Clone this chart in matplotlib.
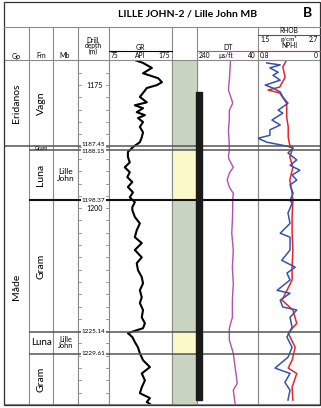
import numpy as np
import matplotlib.pyplot as plt
from matplotlib.patches import Rectangle

plt.rcParams['font.family'] = ['Lato', 'DejaVu Sans']

W, H = 321, 408

# depth window (m) and formation tops
depth_top, depth_base = 1169.9, 1239.8
tops = [1187.45, 1188.15, 1198.37, 1225.14, 1229.61]
top_labels = ['1187.45', '1188.15', '1198.37', '1225.14', '1229.61']

groups = ['Eridanos', 'Måde']
group_bounds = [(1169.9, 1187.45), (1187.45, 1239.8)]
formations = ['Vagn', 'Gram', 'Luna', 'Gram', 'Luna', 'Gram']
form_bounds = [(1169.9, 1187.45), (1187.45, 1188.15), (1188.15, 1198.37),
               (1198.37, 1225.14), (1225.14, 1229.61), (1229.61, 1239.8)]
members = ['Lille\nJohn', 'Lille\nJohn']
member_bounds = [(1188.15, 1198.37), (1225.14, 1229.61)]

# core: full interval with Luna (Lille John) intervals highlighted
core_interval = (1169.9, 1239.8)
luna_intervals = [(1188.15, 1198.37), (1225.14, 1229.61)]
core_bar = (1176.4, 1239.0)

gr_depth = [1169.9, 1170.5, 1171.5, 1172.6, 1173.6, 1174.4, 1175.0, 1175.6, 1176.6, 1177.4,
            1178.5, 1179.1, 1179.7, 1180.5, 1181.1, 1181.7, 1182.5, 1183.5, 1184.6, 1185.6,
            1186.6, 1187.6, 1188.6, 1189.6, 1190.7, 1191.7, 1192.7, 1193.7, 1194.7, 1195.7,
            1196.8, 1197.8, 1198.8, 1199.8, 1200.4, 1201.8, 1203.1, 1204.5, 1205.9, 1207.1,
            1208.5, 1210.0, 1211.2, 1212.6, 1214.0, 1215.3, 1216.7, 1218.1, 1219.3, 1220.7,
            1222.2, 1223.4, 1224.4, 1225.4, 1226.2, 1227.2, 1228.3, 1229.5, 1230.9, 1232.3,
            1233.6, 1235.0, 1236.4, 1237.6, 1238.6, 1239.4, 1239.8]
gr_api = [116, 129, 143, 129, 153, 159, 151, 135, 129, 124,
          135, 116, 129, 119, 132, 121, 129, 124, 129, 127,
          124, 113, 105, 105, 108, 100, 108, 104, 112, 105,
          113, 108, 116, 112, 112, 116, 124, 119, 116, 127,
          116, 127, 119, 121, 127, 129, 124, 127, 124, 129,
          127, 132, 129, 105, 112, 116, 121, 124, 129, 140,
          127, 132, 127, 124, 140, 135, 140]

dt_depth = [1169.9, 1172.0, 1174.0, 1176.0, 1178.0, 1178.7, 1180.1, 1182.1, 1184.1, 1186.2,
            1188.2, 1189.6, 1190.2, 1191.7, 1192.9, 1194.3, 1195.7, 1197.0, 1198.4, 1200.4,
            1202.4, 1205.1, 1208.5, 1212.0, 1215.3, 1218.7, 1222.2, 1224.4, 1226.8, 1229.5,
            1232.3, 1235.6, 1237.0, 1239.8]
dt_us = [130, 132, 134, 137, 126, 123, 134, 134, 137, 135,
         134, 137, 134, 121, 134, 141, 134, 121, 123, 123,
         124, 126, 121, 124, 121, 124, 124, 134, 134, 121,
         115, 108, 121, 115]

rhob_depth = [1170.5, 1170.9, 1171.5, 1172.4, 1173.0, 1174.0, 1175.0, 1175.6, 1176.4, 1177.4,
              1178.7, 1180.1, 1180.7, 1182.1, 1183.1, 1184.1, 1185.2, 1185.8, 1186.6, 1187.4,
              1187.8, 1188.8, 1190.2, 1191.3, 1192.3, 1193.3, 1194.3, 1195.3, 1197.0, 1198.4,
              1199.0, 1201.0, 1203.1, 1205.1, 1205.9, 1208.5, 1210.6, 1212.0, 1213.2, 1214.6,
              1216.7, 1217.3, 1218.7, 1220.1, 1220.7, 1222.2, 1224.2, 1226.2, 1228.3, 1230.3,
              1232.5, 1233.6, 1235.4, 1237.0, 1239.0]
rhob_gcc = [1.67, 1.93, 1.73, 1.89, 1.79, 1.93, 1.64, 1.79, 1.93, 1.98,
            2.08, 1.89, 1.98, 1.77, 1.93, 1.73, 1.73, 1.50, 1.67, 2.06,
            2.18, 2.08, 2.25, 2.12, 2.31, 2.16, 2.25, 2.12, 2.18, 2.12,
            2.16, 2.08, 2.12, 1.93, 2.12, 2.12, 1.96, 2.22, 2.06, 2.12,
            1.87, 2.12, 1.93, 1.98, 2.25, 2.12, 2.16, 2.06, 2.16, 2.08,
            1.83, 2.12, 2.02, 2.12, 2.08]

nphi_depth = [1169.9, 1171.3, 1173.4, 1175.4, 1176.0, 1176.6, 1178.7, 1181.5, 1183.5, 1185.6,
              1187.2, 1187.8, 1189.6, 1191.7, 1194.3, 1197.0, 1198.4, 1201.8, 1205.1, 1208.5,
              1212.0, 1214.6, 1218.7, 1220.7, 1223.4, 1225.4, 1228.3, 1230.9, 1232.5, 1233.6,
              1236.4, 1239.0]
nphi_frac = [0.43, 0.48, 0.45, 0.52, 0.67, 0.52, 0.43, 0.43, 0.41, 0.41,
             0.39, 0.35, 0.39, 0.35, 0.39, 0.36, 0.35, 0.36, 0.36, 0.35,
             0.36, 0.36, 0.49, 0.35, 0.30, 0.41, 0.32, 0.36, 0.41, 0.30,
             0.36, 0.35]

depth_ticks = np.arange(1170, 1240, 2.5)
depth_ticklabels = {1175: '1175', 1200: '1200'}

GREEN = '#c9d5c1'
YELLOW = '#fbf9c9'
MAGENTA = '#b24fb0'
BLUE = '#3552ad'
RED = '#e8242a'
GRID = '#8a8a8a'


def rect(x0, x1, y0, y1):
    return [x0 / W, 1 - y1 / H, (x1 - x0) / W, (y1 - y0) / H]


fig = plt.figure(figsize=(W / 100, H / 100), dpi=100)

Y0, Y1 = 60, 404
cols = {'strat': (4, 78), 'depth': (78, 109), 'gr': (109, 172),
        'core': (172, 197), 'dt': (197, 258), 'rhob': (258, 320)}

axes = {}
for name, (x0, x1) in cols.items():
    ax = fig.add_axes(rect(x0, x1, Y0, Y1))
    ax.set_ylim(depth_base, depth_top)
    ax.set_xticks([])
    ax.set_yticks([])
    for s in ax.spines.values():
        s.set_color(GRID)
        s.set_linewidth(0.8)
    axes[name] = ax

# formation-top lines across the log tracks
for name, ax in axes.items():
    for d in tops:
        lw = 1.5 if d == 1198.37 else 1.1
        c = '#111111' if d == 1198.37 else '#555555'
        if name == 'strat':
            ax.hlines(d, 1 if d != 1187.45 else 0, 3, color=c, lw=lw, zorder=5)
        else:
            ax.axhline(d, color=c, lw=lw, zorder=5)

# strat column
ax = axes['strat']
ax.set_xlim(0, 3)
ax.axvline(1, color=GRID, lw=0.8)
ax.axvline(2, color=GRID, lw=0.8)
for name, (a, b) in zip(groups, group_bounds):
    yc = (a + b) / 2 if name == 'Eridanos' else 1216.0
    ax.text(0.5, yc, name, rotation=90, ha='center', va='center', fontsize=7.5)
for name, (a, b) in zip(formations, form_bounds):
    thick = b - a
    if thick < 1:
        ax.text(1.5, (a + b) / 2, name, ha='center', va='center', fontsize=4.0, zorder=6)
    elif thick < 6:
        ax.text(1.5, (a + b) / 2, name, ha='center', va='center', fontsize=7)
    else:
        ax.text(1.5, (a + b) / 2, name, rotation=90, ha='center', va='center', fontsize=7.5)
for name, (a, b) in zip(members, member_bounds):
    fs = 6 if b - a > 6 else 5.3
    ax.text(2.5, (a + b) / 2, name, ha='center', va='center', fontsize=fs, linespacing=0.85)

# depth column
ax = axes['depth']
ax.set_xlim(0, 1)
for d in depth_ticks:
    ax.plot([0, 0.1], [d, d], color=GRID, lw=0.6)
    ax.plot([0.9, 1], [d, d], color=GRID, lw=0.6)
for d, lab in depth_ticklabels.items():
    ax.text(0.8, d, lab, ha='right', va='center', fontsize=5)
for i, (d, lab) in enumerate(zip(tops, top_labels)):
    off = -0.45 if i == 0 else (0.3 if i == 1 else 0)
    ax.text(0.5, d + off, lab, ha='center', va='center', fontsize=4.6, zorder=6,
            bbox=dict(facecolor='white', edgecolor='none', pad=0.3))

# GR
ax = axes['gr']
ax.set_xlim(75, 175)
ax.plot(gr_api, gr_depth, color='black', lw=1.5)

# core column, with the cored interval bar on its right edge
ax = axes['core']
ax.set_xlim(0, 1)
ax.set_zorder(2)
ax.axhspan(*core_interval, color=GREEN, lw=0)
for a, b in luna_intervals:
    ax.axhspan(a, b, color=YELLOW, lw=0)
ax.add_patch(Rectangle((0.96, core_bar[0]), 0.24, core_bar[1] - core_bar[0],
                       color='#1a1a1a', clip_on=False, zorder=7))

# DT
ax = axes['dt']
ax.set_xlim(240, 40)
ax.plot(dt_us, dt_depth, color=MAGENTA, lw=1.0)

# RHOB / NPHI
ax = axes['rhob']
ax.set_xlim(1.5, 2.7)
ax2 = ax.twiny()
ax2.set_xlim(0.8, 0)
ax2.set_xticks([])
ax2.axis('off')
ax2.plot(nphi_frac, nphi_depth, color=RED, lw=1.1)
ax.plot(rhob_gcc, rhob_depth, color=BLUE, lw=1.1, zorder=4)
ax.set_zorder(3)
ax.patch.set_visible(False)

# header / frame overlay in pixel units
ov = fig.add_axes([0, 0, 1, 1], zorder=10)
ov.set_xlim(0, W)
ov.set_ylim(H, 0)
ov.axis('off')
ov.add_patch(Rectangle((4, 2), 316, 403, fill=False, ec='#333333', lw=0.9))
ov.plot([4, 320], [27, 27], color=GRID, lw=0.8)
for x in [29, 53, 78, 109, 172, 197, 258]:
    ov.plot([x, x], [27, 60], color=GRID, lw=0.8)
ov.text(188, 14, 'LILLE JOHN-2 / Lille John MB', ha='center', va='center',
        fontsize=7.5, fontweight='bold')
ov.text(308, 13, 'B', ha='center', va='center', fontsize=10, fontweight='bold')

for x, s in [(16, 'Gp'), (41, 'Fm'), (65, 'Mb')]:
    ov.text(x, 56, s, ha='center', va='center', fontsize=5)
ov.text(93, 46, 'Drill\ndepth\n(m)', ha='center', va='center', fontsize=4.8, linespacing=0.8)

ov.text(140, 47, 'GR', ha='center', va='center', fontsize=5)
ov.plot([109, 172], [51, 51], color='black', lw=0.8)
ov.text(111, 55.5, '75', ha='left', va='center', fontsize=4.8)
ov.text(140, 55.5, 'API', ha='center', va='center', fontsize=4.8)
ov.text(170, 55.5, '175', ha='right', va='center', fontsize=4.8)

ov.text(228, 47, 'DT', ha='center', va='center', fontsize=5)
ov.plot([197, 258], [51, 51], color=MAGENTA, lw=0.8)
ov.text(199, 55.5, '240', ha='left', va='center', fontsize=4.8)
ov.text(226, 55.5, 'µs/ft', ha='center', va='center', fontsize=4.8)
ov.text(256, 55.5, '40', ha='right', va='center', fontsize=4.8)

ov.text(289, 30.5, 'RHOB', ha='center', va='center', fontsize=4.8)
ov.plot([258, 320], [34.5, 34.5], color=BLUE, lw=0.8)
ov.text(260, 39.5, '1.5', ha='left', va='center', fontsize=4.8)
ov.text(289, 39.5, 'g/cm³', ha='center', va='center', fontsize=4.5)
ov.text(318, 39.5, '2.7', ha='right', va='center', fontsize=4.8)
ov.text(289, 45, 'NPHI', ha='center', va='center', fontsize=4.8)
ov.plot([258, 320], [51, 51], color=RED, lw=0.8)
ov.text(260, 55.5, '0.8', ha='left', va='center', fontsize=4.8)
ov.text(318, 55.5, '0', ha='right', va='center', fontsize=4.8)

fig.savefig('out.png', dpi=100)
